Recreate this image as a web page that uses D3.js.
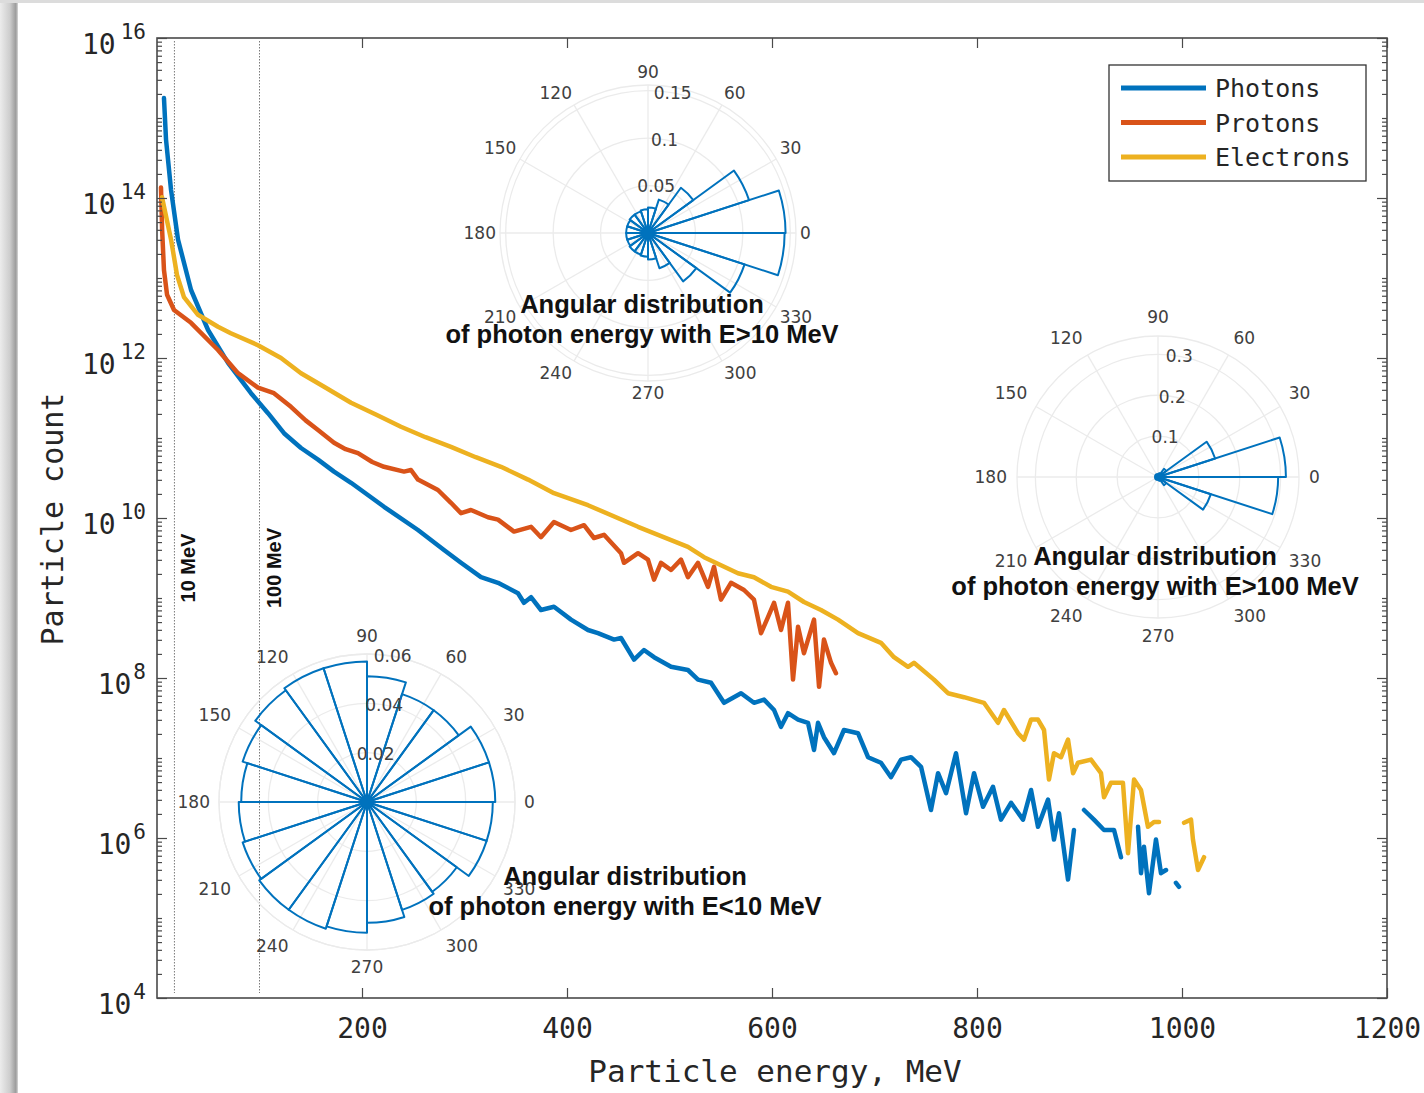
<!DOCTYPE html>
<html>
<head>
<meta charset="utf-8">
<script src="https://cdn.jsdelivr.net/npm/d3@7"></script>
<style>
    body { margin: 0; background: #fff; }
    .mono { font-family: "DejaVu Sans Mono", monospace; fill: #262626; }
    .polarText { font-family: "DejaVu Sans", sans-serif; font-size: 17px; fill: #404040; }
    .insetTitle { font-family: "Liberation Sans", Arial, sans-serif; font-weight: bold; font-size: 25.5px; fill: #111; }
</style>
</head>
<body>
<svg id="chart" width="1424" height="1093"></svg>
<script>
// ----- DATA ---------------------------------------------------------------
const xDomain = [0, 1200];
const xTicks = [200, 400, 600, 800, 1000, 1200];
const yExpDomain = [4, 16];
const yTickExponents = [4, 6, 8, 10, 12, 14, 16];

const seriesNames = ["Photons", "Protons", "Electrons"];
const seriesColors = ["#0072bd", "#d95319", "#edb120"];

// [energy MeV, log10(particle count)], null = no counts in that bin
const photons = [
    [6.8,15.25],[8.8,14.73],[13.7,14.10],[20.5,13.48],[33.2,12.85],[49.8,12.35],[69.3,11.94],
    [91.7,11.56],[108.3,11.31],[123.9,11.06],[140.5,10.875],[157.1,10.73],[172.7,10.58],[189.3,10.44],
    [221.5,10.14],[254.6,9.85],
    [280,9.60],[296.6,9.44],[316.1,9.26],[332.7,9.19],[352.2,9.06],[358,8.94],[364.9,9.01],
    [374.6,8.85],[387.3,8.89],[403.9,8.73],[420.5,8.60],[430.2,8.56],[445.9,8.48],[452.7,8.50],
    [465.4,8.23],[475.1,8.35],[484.9,8.26],[501.5,8.14],[518,8.10],[527.8,7.98],[540.5,7.94],
    [553.2,7.69],[569.8,7.81],[582.4,7.69],[592.2,7.73],[602,7.60],[608.8,7.39],[615.6,7.56],
    [625.4,7.48],[635.1,7.44],[641,7.10],[644.9,7.44],[650.7,7.26],[660.5,7.06],[670.2,7.35],
    [683.9,7.31],[693.7,7.01],[706.3,6.94],[716.1,6.76],[725.9,6.98],[735.6,7.01],[745.4,6.89],
    [755.1,6.35],[762,6.81],[769.8,6.56],[779.5,7.06],[789.3,6.31],[797.1,6.81],[805.9,6.39],
    [815.6,6.64],[823.4,6.23],[833.2,6.44],[844.9,6.23],[852.7,6.60],[859.5,6.14],[869.3,6.48],
    [875.1,5.98],[880,6.31],[888.8,5.48],[894.6,6.10],[899,null],[904.4,6.35],[914.1,6.23],
    [923.9,6.10],[933.7,6.10],[940.5,5.76],[949,null],[957.1,6.14],[960,5.56],[962.9,5.89],
    [967.8,5.31],[974.6,5.98],[979.5,5.56],[984.4,5.60],[989,null],[994.1,5.44],[997.1,5.39]
];

const protons = [
    [3.9,14.13],[5.0,13.60],[6.8,13.10],[9.8,12.79],[16.6,12.60],[33.2,12.44],[59.5,12.10],
    [79,11.81],[98.5,11.63],[114.1,11.56],[130.7,11.39],[145,11.22],[157.1,11.10],[172.7,10.94],
    [184,10.86],[196.1,10.81],[210,10.70],[221.5,10.64],[241,10.58],[247.8,10.60],[254.6,10.48],
    [274.1,10.35],[286.8,10.19],[296.6,10.06],
    [306.3,10.10],[322.9,10.01],[332.7,9.98],[348.3,9.83],[364.9,9.89],[374.6,9.76],[387.3,9.95],
    [403.9,9.85],[416.6,9.91],[426.3,9.75],[436.1,9.79],[452.7,9.56],[455.6,9.44],[469.3,9.56],
    [479,9.48],[484.9,9.23],[491.7,9.44],[501.5,9.35],[511.2,9.48],[518,9.26],[527.8,9.44],
    [537.6,9.14],[543.4,9.39],[550.2,8.98],[560,9.19],[572.7,9.10],[582.4,8.98],[589.3,8.56],
    [596.1,8.76],[602,8.94],[608.8,8.60],[615.6,8.94],[620.5,7.98],[625.4,8.64],[631.2,8.31],
    [641,8.73],[645.9,7.89],[650.7,8.48],[657.6,8.19],[662.4,8.06]
];

const electrons = [
    [4.9,14.01],[13.7,13.48],[19.5,13.04],[26.3,12.76],[40,12.54],[59.5,12.39],[72,12.31],[98.5,12.16],
    [121,12.00],[140.5,11.81],[163,11.64],[189.3,11.44],[214,11.29],[238,11.14],[262,11.01],[286.8,10.89],
    [311,10.76],[335.6,10.64],[362,10.48],[387.3,10.31],[420.5,10.16],
    [469.3,9.89],[518,9.64],[533.7,9.51],[566.8,9.31],[582.4,9.26],[599,9.14],[615.6,9.08],
    [631.2,8.95],[647.8,8.85],[664.4,8.73],[683.9,8.56],[706.3,8.44],[719,8.26],[732.7,8.14],
    [738.5,8.19],[758,7.98],[771.7,7.81],[787.3,7.76],[806.8,7.69],[820.5,7.44],[826.3,7.60],
    [840,7.31],[845.9,7.23],[852.7,7.48],[859.5,7.48],[865.4,7.35],[870.2,6.73],[875.1,7.06],
    [882,7.01],[888.8,7.23],[893.7,6.81],[898.5,6.94],[911.2,6.98],[921,6.81],[923.9,6.51],
    [930.7,6.69],[942.4,6.69],[947.3,5.81],[953.2,6.73],[960,6.60],[966.8,6.14],[972.7,6.20],
    [977.6,6.20],[990,null],[1002,6.19],[1008.8,6.23],[1010.7,5.98],[1015.6,5.60],[1021.5,5.76]
];

// reference lines (the "10 MeV" line sits at ~17 MeV in the original figure)
const markerEnergies = [17, 100];
const markerLabels = ["10 MeV", "100 MeV"];

// polar histograms: 20 bins of 18 degrees, probability per bin
const polarBinCount = 20;
const angleTickLabels = [0, 30, 60, 90, 120, 150, 180, 210, 240, 270, 300, 330];
const binsBelow10 = [0.052,0.052,0.046,0.046,0.051,0.057,0.057,0.056,0.053,0.051,
                     0.052,0.053,0.054,0.054,0.053,0.049,0.046,0.045,0.051,0.051];
const binsAbove10 = [0.145,0.112,0.059,0.037,0.027,0.025,0.024,0.024,0.023,0.023,
                     0.023,0.023,0.024,0.024,0.025,0.028,0.039,0.063,0.107,0.144];
const binsAbove100 = [0.313,0.147,0.025,0.010,0.004,0.004,0.004,0.004,0.004,0.004,
                      0.004,0.004,0.004,0.004,0.004,0.004,0.010,0.025,0.136,0.294];
const rTicksBelow10 = [0.02, 0.04, 0.06];
const rTicksAbove10 = [0.05, 0.1, 0.15];
const rTicksAbove100 = [0.1, 0.2, 0.3];

// ----- CHART --------------------------------------------------------------
const svg = d3.select("#chart");

const plot = { left: 157, right: 1387, top: 38, bottom: 998 };

// page edge shading like the source image
let defs = svg.append("defs");
let grad = defs.append("linearGradient").attr("id", "edgeShade");
grad.append("stop").attr("offset", "0%").attr("stop-color", "#ececec");
grad.append("stop").attr("offset", "55%").attr("stop-color", "#cdcdcd");
grad.append("stop").attr("offset", "88%").attr("stop-color", "#9c9c9c");
grad.append("stop").attr("offset", "100%").attr("stop-color", "#d8d8d8");
svg.append("rect").attr("x", 0).attr("y", 0).attr("width", 18).attr("height", 1093).attr("fill", "url(#edgeShade)");
svg.append("rect").attr("x", 0).attr("y", 0).attr("width", 1424).attr("height", 3).attr("fill", "#dcdcdc");

const x = d3.scaleLinear().domain(xDomain).range([plot.left, plot.right]);
const y = d3.scaleLog()
    .domain(yExpDomain.map(e => Math.pow(10, e)))
    .range([plot.bottom, plot.top]);

// minor log ticks
let minorTicks = [];
for (let e = yExpDomain[0]; e < yExpDomain[1]; e++) {
    for (let m = 2; m <= 10; m++) {
        const v = m * Math.pow(10, e);
        if (m === 10 && yTickExponents.includes(e + 1)) continue;
        minorTicks.push(v);
    }
}

const axisColor = "#4a4a4a";

// reference lines
markerEnergies.forEach((e, i) => {
    svg.append("line")
        .attr("x1", x(e)).attr("x2", x(e))
        .attr("y1", plot.top + 3).attr("y2", plot.bottom - 5)
        .attr("stroke", "#7a7a7a")
        .attr("stroke-width", 1)
        .attr("stroke-dasharray", "1.5,1.5");
    svg.append("text")
        .attr("transform", "translate(" + (x(e) + 21) + ",568) rotate(-90)")
        .attr("text-anchor", "middle")
        .style("font-family", "'Liberation Sans', Arial, sans-serif")
        .style("font-weight", "bold")
        .style("font-size", "20px")
        .attr("fill", "#111")
        .text(markerLabels[i]);
});

// ----- polar insets -------------------------------------------------------
function drawPolarInset(cfg) {
    const g = svg.append("g").attr("transform", "translate(" + cfg.cx + "," + cfg.cy + ")");
    const r = d3.scaleLinear().domain([0, cfg.rMax]).range([0, cfg.radius]);
    const gridColor = "#ebebeb";

    // rings
    cfg.rTicks.concat([cfg.rMax]).forEach(t => {
        g.append("circle").attr("r", r(t)).attr("fill", "none")
            .attr("stroke", gridColor).attr("stroke-width", 1.3);
    });
    // spokes
    angleTickLabels.forEach(a => {
        const th = a * Math.PI / 180;
        g.append("line").attr("x1", 0).attr("y1", 0)
            .attr("x2", cfg.radius * Math.cos(th)).attr("y2", -cfg.radius * Math.sin(th))
            .attr("stroke", gridColor).attr("stroke-width", 1.3);
    });

    // wedges
    const binRad = 2 * Math.PI / polarBinCount;
    const arc = d3.arc().innerRadius(0);
    g.selectAll(".wedge")
        .data(cfg.values)
        .enter()
        .append("path")
        .attr("class", "wedge")
        .attr("d", (v, i) => arc({
            outerRadius: r(v),
            startAngle: Math.PI / 2 - (i + 1) * binRad,
            endAngle: Math.PI / 2 - i * binRad
        }))
        .attr("fill", "none")
        .attr("stroke", seriesColors[0])
        .attr("stroke-width", 2)
        .attr("stroke-linejoin", "round");

    // edges converge into a solid hub
    g.append("circle").attr("r", cfg.hub).attr("fill", seriesColors[0]);

    // angle labels
    angleTickLabels.forEach(a => {
        const th = a * Math.PI / 180;
        const c = Math.cos(th), s = Math.sin(th);
        let t = g.append("text").attr("class", "polarText")
            .attr("x", cfg.labelR * c)
            .attr("y", -cfg.labelR * s)
            .attr("text-anchor", c > 0.2 ? "start" : (c < -0.2 ? "end" : "middle"))
            .text(a);
        if (s > 0.2) t.attr("dy", "-0.15em");
        else if (s < -0.2) t.attr("dy", "0.85em");
        else t.attr("dy", "0.36em");
    });

    // radial labels at 80 degrees
    const ra = 80 * Math.PI / 180;
    cfg.rTicks.forEach(t => {
        g.append("text").attr("class", "polarText")
            .attr("x", r(t) * Math.cos(ra))
            .attr("y", -r(t) * Math.sin(ra))
            .attr("dy", "0.36em")
            .attr("text-anchor", "middle")
            .text(t);
    });

    // title
    cfg.title.forEach((line, i) => {
        svg.append("text").attr("class", "insetTitle")
            .attr("x", cfg.titleX)
            .attr("y", cfg.titleY + i * 30)
            .attr("text-anchor", "middle")
            .text(line);
    });
}

drawPolarInset({
    cx: 648, cy: 233, rMax: 0.156, radius: 148, labelR: 152, hub: 6,
    values: binsAbove10, rTicks: rTicksAbove10,
    title: ["Angular distribution", "of photon energy with E>10 MeV"], titleX: 642, titleY: 313
});
drawPolarInset({
    cx: 1158, cy: 477, rMax: 0.345, radius: 141, labelR: 151, hub: 4,
    values: binsAbove100, rTicks: rTicksAbove100,
    title: ["Angular distribution", "of photon energy with E>100 MeV"], titleX: 1155, titleY: 565
});
drawPolarInset({
    cx: 367, cy: 802, rMax: 0.06, radius: 148, labelR: 157, hub: 7,
    values: binsBelow10, rTicks: rTicksBelow10,
    title: ["Angular distribution", "of photon energy with E<10 MeV"], titleX: 625, titleY: 885
});

// ----- spectra ------------------------------------------------------------
const line = d3.line()
    .defined(d => d[1] !== null)
    .x(d => x(d[0]))
    .y(d => y(Math.pow(10, d[1])));

[photons, protons, electrons].forEach((series, i) => {
    svg.append("path")
        .datum(series)
        .attr("d", line)
        .attr("fill", "none")
        .attr("stroke", seriesColors[i])
        .attr("stroke-width", 4.5)
        .attr("stroke-linejoin", "round")
        .attr("stroke-linecap", "round");
});

// ----- axes ---------------------------------------------------------------
let xAxisBottom = svg.append("g")
    .attr("transform", "translate(0," + plot.bottom + ")")
    .call(d3.axisBottom(x).tickValues(xTicks).tickFormat(d3.format("d"))
        .tickSizeInner(-10).tickSizeOuter(0).tickPadding(20));
xAxisBottom.selectAll("text").attr("class", "mono").style("font-size", "28px");

svg.append("g")
    .attr("transform", "translate(0," + plot.top + ")")
    .call(d3.axisTop(x).tickValues(xTicks).tickSizeInner(-10).tickSizeOuter(0).tickFormat(""));

let yAxisLeft = svg.append("g")
    .attr("transform", "translate(" + plot.left + ",0)")
    .call(d3.axisLeft(y).tickValues(yTickExponents.map(e => Math.pow(10, e)))
        .tickSizeInner(-10).tickSizeOuter(0).tickPadding(11).tickFormat(""));

yAxisLeft.selectAll(".tick text")
    .attr("class", "mono")
    .attr("dy", "15px")
    .each(function(d) {
        const t = d3.select(this);
        const e = Math.round(Math.log10(d));
        t.text(null);
        t.append("tspan").style("font-size", "28px").text("10");
        t.append("tspan").style("font-size", "21px").attr("dx", e > 9 ? "5" : "2").attr("dy", "-15").text(e);
    });

svg.append("g")
    .attr("transform", "translate(" + plot.left + ",0)")
    .call(d3.axisLeft(y).tickValues(minorTicks).tickSizeInner(-5).tickSizeOuter(0).tickFormat(""));

svg.append("g")
    .attr("transform", "translate(" + plot.right + ",0)")
    .call(d3.axisRight(y).tickValues(yTickExponents.map(e => Math.pow(10, e)))
        .tickSizeInner(-10).tickSizeOuter(0).tickFormat(""));

svg.append("g")
    .attr("transform", "translate(" + plot.right + ",0)")
    .call(d3.axisRight(y).tickValues(minorTicks).tickSizeInner(-5).tickSizeOuter(0).tickFormat(""));

svg.selectAll(".domain").remove();
svg.selectAll(".tick line").attr("stroke", axisColor).attr("stroke-width", 1.2);

// frame
svg.append("rect")
    .attr("x", plot.left).attr("y", plot.top)
    .attr("width", plot.right - plot.left).attr("height", plot.bottom - plot.top)
    .attr("fill", "none").attr("stroke", axisColor).attr("stroke-width", 1.6);

// axis titles
svg.append("text")
    .attr("class", "mono")
    .attr("x", 775).attr("y", 1082)
    .attr("text-anchor", "middle")
    .style("font-size", "31px")
    .text("Particle energy, MeV");

svg.append("text")
    .attr("class", "mono")
    .attr("transform", "translate(63,519) rotate(-90)")
    .attr("text-anchor", "middle")
    .style("font-size", "30px")
    .text("Particle count");

// ----- legend -------------------------------------------------------------
let legend = svg.append("g").attr("transform", "translate(1109,65)");
legend.append("rect")
    .attr("width", 257).attr("height", 116)
    .attr("fill", "#fff").attr("stroke", "#333").attr("stroke-width", 1.3);

seriesNames.forEach((name, i) => {
    const ly = 23 + i * 34.5;
    legend.append("line")
        .attr("x1", 12).attr("x2", 97).attr("y1", ly).attr("y2", ly)
        .attr("stroke", seriesColors[i]).attr("stroke-width", 5);
    legend.append("text")
        .attr("class", "mono")
        .attr("x", 106).attr("y", ly)
        .attr("dy", "0.36em")
        .style("font-size", "25px")
        .text(name);
});
</script>
</body>
</html>
